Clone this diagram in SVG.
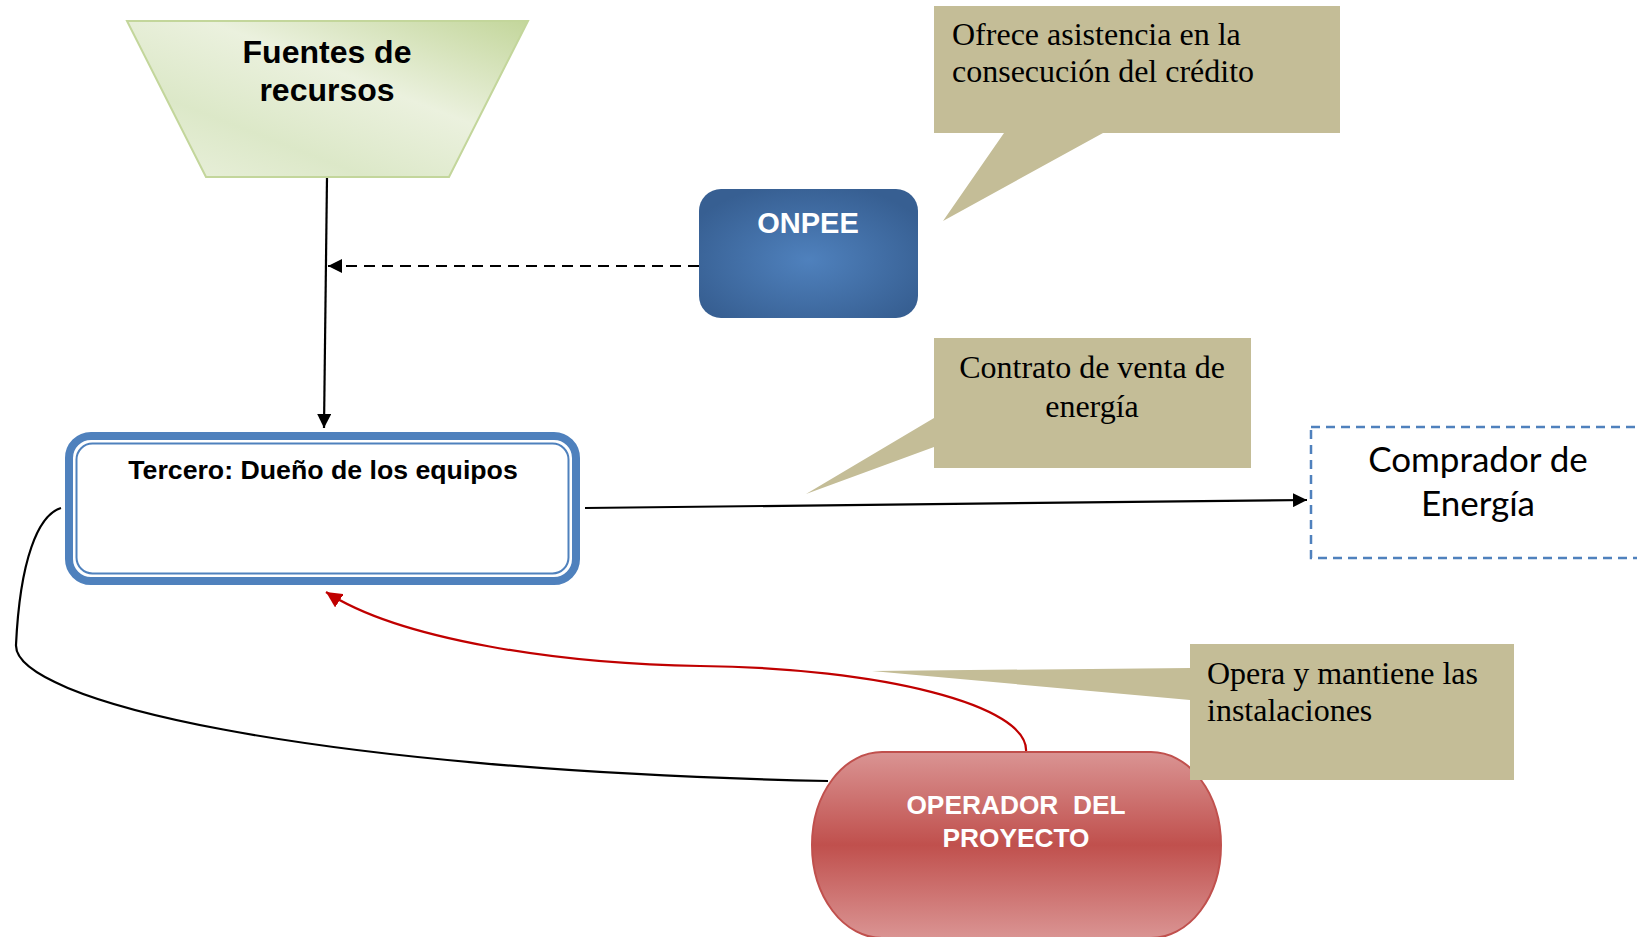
<svg xmlns="http://www.w3.org/2000/svg" width="1637" height="937" viewBox="0 0 1637 937">
<defs>
<linearGradient id="gGreen" x1="0" y1="1" x2="1" y2="0">
<stop offset="0" stop-color="#ebf1de"/>
<stop offset="0.3" stop-color="#dce8c8"/>
<stop offset="0.6" stop-color="#ebf1de"/>
<stop offset="1" stop-color="#c3d69b"/>
</linearGradient>
<radialGradient id="gBlue" cx="0.5" cy="0.55" r="0.6">
<stop offset="0" stop-color="#4f81bd"/>
<stop offset="1" stop-color="#375f92"/>
</radialGradient>
<linearGradient id="gRed" x1="0" y1="0" x2="0" y2="1">
<stop offset="0" stop-color="#da9493"/>
<stop offset="0.5" stop-color="#c0504d"/>
<stop offset="1" stop-color="#da9493"/>
</linearGradient>
<marker id="aBlack" viewBox="0 0 10 10" refX="10" refY="5" markerWidth="14" markerHeight="14" markerUnits="userSpaceOnUse" orient="auto">
<path d="M0,0 L10,5 L0,10 z" fill="#000"/>
</marker>
<marker id="aRed" viewBox="0 0 10 10" refX="10" refY="5" markerWidth="16" markerHeight="16" markerUnits="userSpaceOnUse" orient="auto">
<path d="M0,0 L10,5 L0,10 z" fill="#c00000"/>
</marker>
<style>
.serif{font-family:"Liberation Serif","Times New Roman",serif;font-size:32px;fill:#000}
.bold{font-family:"Liberation Sans",Arial,sans-serif;font-weight:bold}
.callout{fill:#c4bd97}
.conn{fill:none;stroke:#000;stroke-width:2.2}
</style>
</defs>

<g id="connectors">
<path class="conn" d="M327,177 L324,428" marker-end="url(#aBlack)"/>
<path class="conn" d="M699,266 L328,266" stroke-dasharray="11,7" marker-end="url(#aBlack)"/>
<path class="conn" d="M585,508 L1307,500" marker-end="url(#aBlack)"/>
<path class="conn" d="M61,508 C38,515 20,560 16,645 C14,700 300,770 828,781"/>
<path d="M1026,752 C1030,705 880,668 700,666 C560,664 400,640 326,592" fill="none" stroke="#c00000" stroke-width="2.2" marker-end="url(#aRed)"/>
</g>

<g id="fuentes">
<polygon points="127,21 528,21 449,177 206,177" fill="url(#gGreen)" stroke="#c3d69b" stroke-width="2"/>
<text class="bold" x="327" y="63" font-size="32" text-anchor="middle">Fuentes de</text>
<text class="bold" x="327" y="101" font-size="32" text-anchor="middle">recursos</text>
</g>

<g id="onpee">
<rect x="699" y="189" width="219" height="129" rx="22" fill="url(#gBlue)"/>
<text class="bold" x="808" y="233" font-size="29" fill="#fff" text-anchor="middle">ONPEE</text>
</g>

<g id="callout-credito">
<path class="callout" d="M934,6 H1340 V133 H1103 L943,221 L1004,133 H934 Z"/>
<text class="serif" x="952" y="45">Ofrece asistencia en la</text>
<text class="serif" x="952" y="82">consecución del crédito</text>
</g>

<g id="callout-contrato">
<path class="callout" d="M934,338 H1251 V468 H934 V447 L806,494 L934,418 Z"/>
<text class="serif" x="1092" y="378" text-anchor="middle">Contrato de venta de</text>
<text class="serif" x="1092" y="417" text-anchor="middle">energía</text>
</g>

<g id="tercero">
<rect x="69" y="436" width="507" height="145" rx="22" fill="#fff" stroke="#4f81bd" stroke-width="8"/>
<rect x="76.5" y="443.5" width="492" height="130" rx="16" fill="none" stroke="#4f81bd" stroke-width="2"/>
<text class="bold" x="323" y="479" font-size="26.7" text-anchor="middle">Tercero: Dueño de los equipos</text>
</g>

<g id="comprador">
<rect x="1311" y="427" width="340" height="131" fill="#fff" stroke="#4f81bd" stroke-width="2.5" stroke-dasharray="9,6"/>
<text x="1478" y="472" font-family="Lato,'Open Sans',sans-serif" font-size="35" text-anchor="middle" fill="#000">Comprador de</text>
<text x="1478" y="516" font-family="Lato,'Open Sans',sans-serif" font-size="35" text-anchor="middle" fill="#000">Energía</text>
</g>

<g id="operador">
<rect x="812" y="752" width="409" height="186" rx="70" ry="93" fill="url(#gRed)" stroke="#c0504d" stroke-width="2"/>
<text class="bold" x="1016" y="814" font-size="26.3" fill="#fff" text-anchor="middle" xml:space="preserve">OPERADOR  DEL</text>
<text class="bold" x="1016" y="847" font-size="26.3" fill="#fff" text-anchor="middle">PROYECTO</text>
</g>

<g id="callout-opera">
<path class="callout" d="M1190,644 H1514 V780 H1190 V700 L872,671 L1190,668 Z"/>
<text class="serif" x="1207" y="684">Opera y mantiene las</text>
<text class="serif" x="1207" y="721">instalaciones</text>
</g>
</svg>
